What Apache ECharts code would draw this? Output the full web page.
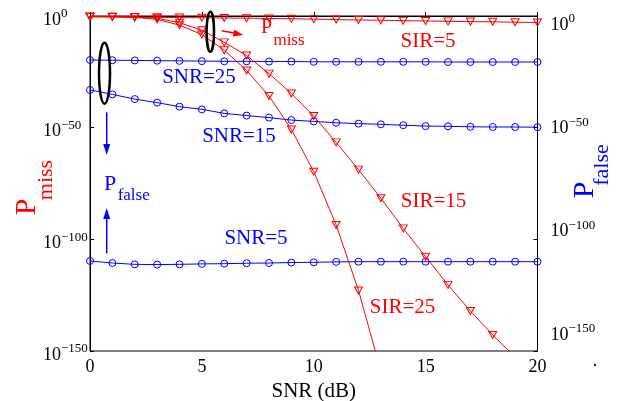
<!DOCTYPE html>
<html>
<head>
<meta charset="utf-8">
<script src="https://cdn.jsdelivr.net/npm/echarts@6/dist/echarts.min.js"></script>
<style>html,body{margin:0;padding:0;background:#fff}#c{width:629px;height:401px}</style>
</head>
<body>
<div id="c"></div>
<script>
// SNR (dB) on x; values are log10 of probability (exponent of 10)
const snr = [0,1,2,3,4,5,6,7,8,9,10,11,12,13,14,15,16,17,18,19,20];
const log10PmissSIR5  = [-0.3,-0.4,-0.5,-0.6,-0.7,-0.8,-0.9,-1.0,-1.1,-1.2,-1.4,-1.6,-1.8,-1.9,-2.1,-2.2,-2.4,-2.5,-2.6,-2.8,-2.9];
const log10PmissSIR15 = [-0.3,-0.3,-0.5,-1.0,-3.0,-6.4,-11.8,-17.7,-25.8,-34.7,-44.8,-56.6,-68.8,-81.6,-95.1,-107.8,-120.4,-132.1,-142.8,-152.8,null];
const log10PmissSIR25 = [-0.3,-0.3,-0.6,-1.5,-4.1,-8.3,-15.3,-24.4,-35.8,-50.8,-69.7,-93.6,-122.9,-159,null,null,null,null,null,null,null];
const log10PfalseSNR25 = [-19.7,-19.8,-19.9,-20.0,-20.1,-20.2,-20.3,-20.3,-20.4,-20.4,-20.5,-20.5,-20.5,-20.5,-20.5,-20.5,-20.6,-20.6,-20.6,-20.6,-20.6];
const log10PfalseSNR15 = [-33.1,-35.1,-37.2,-38.8,-40.6,-41.8,-43.6,-44.6,-45.5,-46.6,-47.2,-47.8,-48.2,-48.5,-48.9,-49.3,-49.4,-49.6,-49.7,-49.7,-49.8];
const log10PfalseSNR5  = [-109.7,-110.6,-111.2,-111.3,-111.2,-111.0,-110.9,-110.7,-110.6,-110.4,-110.3,-110.1,-110.0,-110.0,-110.0,-110.0,-110.0,-110.0,-110.0,-110.0,-110.0];
const yTickExponents = [0,-50,-100,-150];
const xTickInterval = 5;

const FONT = '"Liberation Serif", "Times New Roman", serif';
const RED = '#ff0000', BLUE = '#0000ff';

function pairs(ys){ return snr.map((x,i)=>[x, ys[i]]); }
function expLabel(v){
  const e = Math.round(v);
  return '{b|10}{s|' + (e === 0 ? '0' : '\u2212' + (-e)) + '}';
}
const labelRich = {
  b: {fontSize: 18, fontFamily: FONT, color: '#000', lineHeight: 25},
  s: {fontSize: 13, fontFamily: FONT, color: '#000', lineHeight: 2, verticalAlign: 'top'}
};

function lineSeries(name, ys, color, sym){
  const isTri = sym === 'tri';
  return {
    name, type: 'line', data: pairs(ys), yAxisIndex: 0,
    symbol: isTri ? 'triangle' : 'circle',
    symbolSize: isTri ? [8, 7] : 7,
    symbolRotate: isTri ? 180 : 0,
    showAllSymbol: true, connectNulls: false, clip: true,
    lineStyle: {color, width: 1},
    itemStyle: {color: 'transparent', borderColor: color, borderWidth: 1},
    emphasis: {disabled: true},
    z: isTri ? 3 : 2
  };
}

function txt(text, x, y, size, color, extra){
  return Object.assign({
    type: 'text', x, y, z: 100,
    style: {text, font: size + 'px ' + FONT, fill: color, align: 'center', verticalAlign: 'middle'}
  }, extra || {});
}

const chart = echarts.init(document.getElementById('c'), null, {renderer: 'canvas'});
chart.setOption({
  animation: false,
  backgroundColor: '#fff',
  grid: {left: 90, right: 91.5, top: 16, bottom: 50, show: true, borderColor: '#000', borderWidth: 1,
         backgroundColor: 'transparent', containLabel: false, outerBoundsMode: 'none'},
  xAxis: {
    type: 'value', min: 0, max: 20, interval: xTickInterval,
    name: 'SNR (dB)', nameLocation: 'middle', nameGap: 21,
    nameTextStyle: {fontFamily: FONT, fontSize: 21, color: '#000'},
    axisLine: {show: true, lineStyle: {color: '#000', width: 1}},
    axisTick: {show: true, inside: true, length: 4, lineStyle: {color: '#000'}},
    axisLabel: {fontFamily: FONT, fontSize: 18, color: '#000', margin: 7},
    splitLine: {show: false}
  },
  yAxis: [
    {
      type: 'value', min: -150, max: 0, interval: 50, position: 'left',
      axisLine: {show: true, lineStyle: {color: '#000', width: 1}},
      axisTick: {show: true, inside: true, length: 4, lineStyle: {color: '#000'}},
      axisLabel: {
        show: true, align: 'left', margin: 47, padding: [8, 0, 0, 0],
        formatter: expLabel, rich: labelRich,
        customValues: yTickExponents
      },
      splitLine: {show: false}
    },
    {
      type: 'value', min: -150, max: 0, interval: 50, position: 'right',
      axisLine: {show: true, lineStyle: {color: '#000', width: 1}},
      axisTick: {show: true, inside: true, length: 4, lineStyle: {color: '#000'}},
      axisLabel: {show: false},
      splitLine: {show: false}
    },
    {
      type: 'value', min: -159.7, max: 2.42, position: 'right',
      axisLine: {show: false}, axisTick: {show: false},
      axisLabel: {
        show: true, align: 'left', margin: 13, padding: [8, 0, 0, 0],
        formatter: expLabel, rich: labelRich,
        customValues: yTickExponents
      },
      splitLine: {show: false}
    }
  ],
  series: [
    lineSeries('SNR=25', log10PfalseSNR25, BLUE, 'circ'),
    lineSeries('SNR=15', log10PfalseSNR15, BLUE, 'circ'),
    lineSeries('SNR=5',  log10PfalseSNR5,  BLUE, 'circ'),
    lineSeries('SIR=5',  log10PmissSIR5,   RED, 'tri'),
    lineSeries('SIR=15', log10PmissSIR15,  RED, 'tri'),
    lineSeries('SIR=25', log10PmissSIR25,  RED, 'tri')
  ],
  graphic: [
    // axis titles
    txt('P', 27.5, 207, 30, RED, {rotation: Math.PI/2}),
    txt('miss', 46, 180, 22, RED, {rotation: Math.PI/2}),
    txt('P', 585.5, 190, 30, BLUE, {rotation: Math.PI/2}),
    txt('false', 602, 165, 22, BLUE, {rotation: Math.PI/2}),
    // curve labels
    txt('SNR=25', 199, 77, 21, BLUE),
    txt('SNR=15', 239, 136.5, 21, BLUE),
    txt('SNR=5', 256, 238.5, 21, BLUE),
    txt('SIR=5', 428, 41, 21, RED),
    txt('SIR=15', 433.5, 201, 21, RED),
    txt('SIR=25', 402.5, 307, 21, RED),
    // P_miss annotation at top
    txt('P', 266.5, 28, 20, RED),
    txt('miss', 289, 40.5, 17, RED),
    // P_false annotation at left
    txt('P', 110, 184, 22, BLUE),
    txt('false', 133.7, 195.5, 17, BLUE),
    // trailing dot
    txt('.', 595, 361.5, 18, '#000'),
    // ellipses
    {type: 'ellipse', z: 100, shape: {cx: 210.3, cy: 31.7, rx: 3.7, ry: 20}, style: {fill: 'none', stroke: '#000', lineWidth: 2.5}},
    {type: 'ellipse', z: 100, shape: {cx: 104.5, cy: 73.3, rx: 5.5, ry: 30.5}, style: {fill: 'none', stroke: '#000', lineWidth: 2.5}},
    // red arrow
    {type: 'line', z: 100, shape: {x1: 221.7, y1: 30.7, x2: 234, y2: 33.1}, style: {stroke: RED, lineWidth: 1.5}},
    {type: 'polygon', z: 100, shape: {points: [[243.3, 35], [232.8, 36.5], [234.2, 29.6]]}, style: {fill: RED}},
    // blue down arrow
    {type: 'line', z: 100, shape: {x1: 106.7, y1: 112.3, x2: 106.7, y2: 146}, style: {stroke: BLUE, lineWidth: 1.5}},
    {type: 'polygon', z: 100, shape: {points: [[106.7, 155], [103.2, 144], [110.2, 144]]}, style: {fill: BLUE}},
    // blue up arrow
    {type: 'line', z: 100, shape: {x1: 106.7, y1: 253.3, x2: 106.7, y2: 218}, style: {stroke: BLUE, lineWidth: 1.5}},
    {type: 'polygon', z: 100, shape: {points: [[106.7, 208], [103.2, 219], [110.2, 219]]}, style: {fill: BLUE}}
  ]
});
</script>
</body>
</html>
